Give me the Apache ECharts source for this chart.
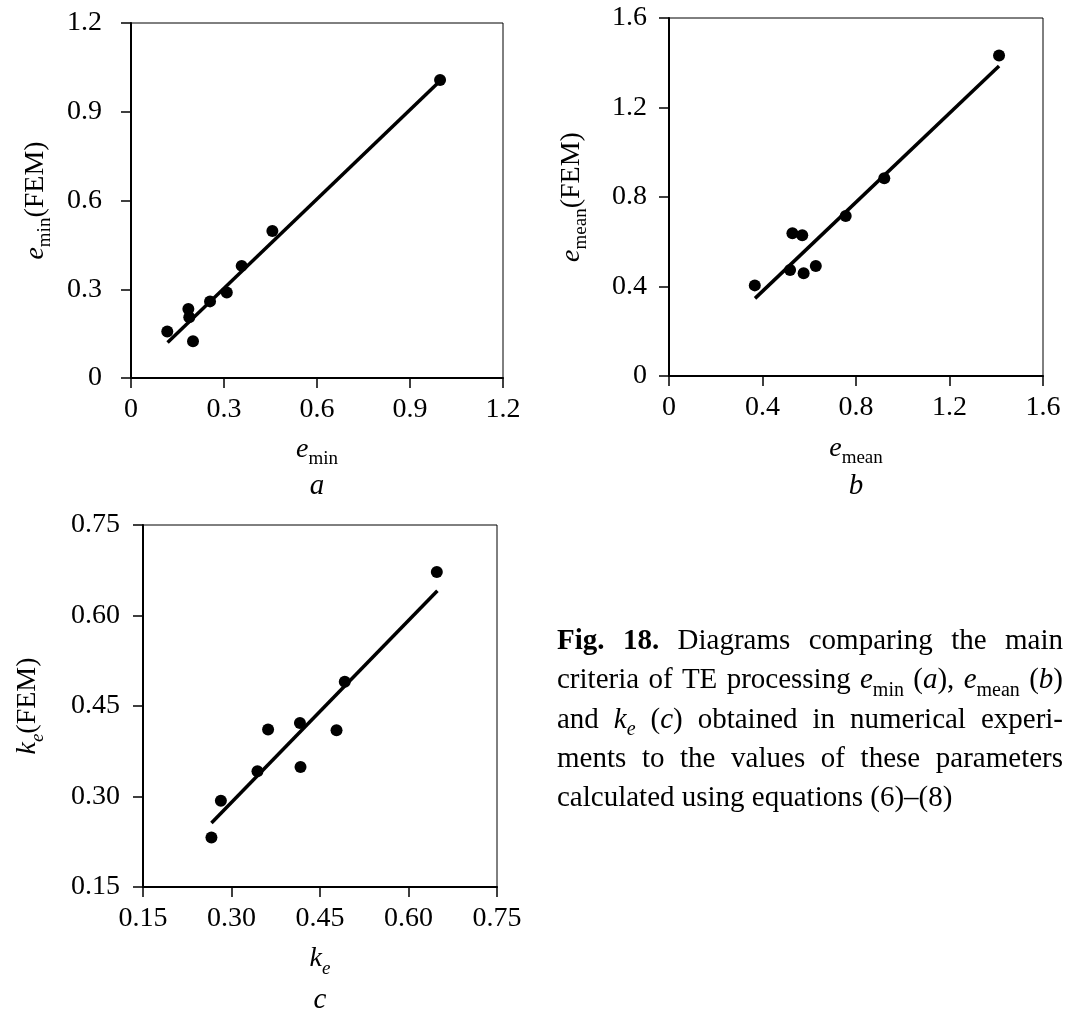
<!DOCTYPE html>
<html>
<head>
<meta charset="utf-8">
<script src="https://cdn.jsdelivr.net/npm/echarts@6/dist/echarts.min.js"></script>
<style>
  html, body { margin: 0; padding: 0; background: #fff; }
  #chart { width: 1066px; height: 1021px; }
</style>
</head>
<body>
<div id="chart"></div>
<script>
// panel a: e_min
const ticksA = [0, 0.3, 0.6, 0.9, 1.2]
const tickLabelsA = ['0', '0.3', '0.6', '0.9', '1.2']
const pointsA = [[0.117, 0.157], [0.185, 0.233], [0.188, 0.205], [0.2, 0.124], [0.255, 0.259],
  [0.309, 0.289], [0.357, 0.379], [0.456, 0.497], [0.997, 1.007]]
const fitA = [[0.118, 0.12], [0.99, 0.997]]

// panel b: e_mean
const ticksB = [0, 0.4, 0.8, 1.2, 1.6]
const tickLabelsB = ['0', '0.4', '0.8', '1.2', '1.6']
const pointsB = [[0.367, 0.405], [0.518, 0.474], [0.528, 0.638], [0.57, 0.629], [0.576, 0.459],
  [0.628, 0.492], [0.756, 0.715], [0.921, 0.884], [1.412, 1.432]]
const fitB = [[0.368, 0.347], [1.412, 1.385]]

// panel c: k_e
const ticksC = [0.15, 0.30, 0.45, 0.60, 0.75]
const tickLabelsC = ['0.15', '0.30', '0.45', '0.60', '0.75']
const pointsC = [[0.266, 0.232], [0.282, 0.293], [0.344, 0.342], [0.362, 0.411], [0.416, 0.422],
  [0.417, 0.349], [0.478, 0.41], [0.492, 0.49], [0.648, 0.672]]
const fitC = [[0.266, 0.256], [0.649, 0.641]]

const captionLines = [
  '{b|Fig.} {b|18.} Diagrams comparing the main',
  'criteria of TE processing {i|e}{s|min} ({i|a}), {i|e}{s|mean} ({i|b})',
  'and {i|k}{si|e} ({i|c}) obtained in numerical experi-',
  'ments to the values of these parameters',
  'calculated using equations (6)–(8)'
]

const SERIF = '"Liberation Serif", "Times New Roman", serif'

// main glyphs sit at the top of the line box, subscripts at its bottom
const nameRich = {
  i: { fontFamily: SERIF, fontStyle: 'italic', fontSize: 28, lineHeight: 33, verticalAlign: 'top', color: '#000' },
  r: { fontFamily: SERIF, fontSize: 28, lineHeight: 33, verticalAlign: 'top', color: '#000' },
  s: { fontFamily: SERIF, fontSize: 19, lineHeight: 33, verticalAlign: 'bottom', color: '#000' },
  si: { fontFamily: SERIF, fontStyle: 'italic', fontSize: 19, lineHeight: 33, verticalAlign: 'bottom', color: '#000' }
}

function valueAxis(gridIndex, ticks, labels, name, nameGap, labelMargin) {
  const step = +(ticks[1] - ticks[0]).toFixed(6)
  return {
    type: 'value',
    gridIndex: gridIndex,
    min: ticks[0],
    max: ticks[ticks.length - 1],
    interval: step,
    axisLine: { show: true, onZero: false, lineStyle: { color: '#000', width: 2 } },
    axisTick: { show: true, length: 10, lineStyle: { color: '#000', width: 1.5 } },
    axisLabel: {
      color: '#000', fontFamily: SERIF, fontSize: 28, margin: labelMargin,
      formatter: (v) => labels[Math.round((v - ticks[0]) / step)]
    },
    splitLine: { show: false },
    name: name,
    nameLocation: 'middle',
    nameGap: nameGap,
    nameTextStyle: { rich: nameRich }
  }
}

function panelSeries(i, points, fit) {
  return [
    {
      type: 'line', xAxisIndex: i, yAxisIndex: i, data: fit,
      symbol: 'none', lineStyle: { color: '#000', width: 3.5 }
    },
    {
      type: 'scatter', xAxisIndex: i, yAxisIndex: i, data: points,
      symbolSize: 12, itemStyle: { color: '#000', opacity: 1 }
    }
  ]
}

// caption layout: justified words, measured with canvas
const capFont = {
  r: '29px ' + SERIF,
  b: 'bold 29px ' + SERIF,
  i: 'italic 29px ' + SERIF,
  s: '20px ' + SERIF,
  si: 'italic 20px ' + SERIF
}
const capRich = {
  r: { fontFamily: SERIF, fontSize: 29, lineHeight: 34, verticalAlign: 'top', fill: '#000' },
  b: { fontFamily: SERIF, fontSize: 29, fontWeight: 'bold', lineHeight: 34, verticalAlign: 'top', fill: '#000' },
  i: { fontFamily: SERIF, fontSize: 29, fontStyle: 'italic', lineHeight: 34, verticalAlign: 'top', fill: '#000' },
  s: { fontFamily: SERIF, fontSize: 20, lineHeight: 34, verticalAlign: 'bottom', fill: '#000' },
  si: { fontFamily: SERIF, fontSize: 20, fontStyle: 'italic', lineHeight: 34, verticalAlign: 'bottom', fill: '#000' }
}
const ctx = document.createElement('canvas').getContext('2d')
function parseWord(w) {
  const segs = []
  const re = /\{(\w+)\|([^}]*)\}|[^{]+/g
  let m
  while ((m = re.exec(w))) {
    if (m[1]) segs.push([m[1], m[2]])
    else segs.push(['r', m[0]])
  }
  return segs
}
function measure(segs) {
  let w = 0
  segs.forEach(([st, t]) => { ctx.font = capFont[st]; w += ctx.measureText(t).width })
  return w
}
const capLeft = 557, capRight = 1063, capTop = 627, capStep = 39.3
const captionGraphics = []
captionLines.forEach((line, li) => {
  const words = line.split(' ').map(parseWord)
  const widths = words.map(measure)
  const total = widths.reduce((a, b) => a + b, 0)
  ctx.font = capFont.r
  let gap = ctx.measureText(' ').width
  if (li < captionLines.length - 1) gap = (capRight - capLeft - total) / (words.length - 1)
  let x = capLeft
  words.forEach((segs, wi) => {
    captionGraphics.push({
      type: 'text', x: x, y: capTop + li * capStep,
      style: {
        text: segs.map(([st, t]) => '{' + st + '|' + t + '}').join(''),
        rich: capRich, align: 'left', verticalAlign: 'top'
      }
    })
    x += widths[wi] + gap
  })
})

function panelLetter(t, x, y) {
  return {
    type: 'text', x: x, y: y,
    style: {
      text: t, fontFamily: SERIF, fontSize: 29, fontStyle: 'italic',
      fill: '#000', align: 'center', verticalAlign: 'middle'
    }
  }
}

const myChart = echarts.init(document.getElementById('chart'))
const option = {
  animation: false,
  backgroundColor: '#fff',
  grid: [
    { left: 131, top: 23, width: 372, height: 355, show: true, borderColor: '#000', borderWidth: 1 },
    { left: 669, top: 18, width: 374, height: 358, show: true, borderColor: '#000', borderWidth: 1 },
    { left: 143, top: 525, width: 354, height: 362, show: true, borderColor: '#000', borderWidth: 1 }
  ],
  xAxis: [
    valueAxis(0, ticksA, tickLabelsA, '{i|e}{s|min}', 58, 18),
    valueAxis(1, ticksB, tickLabelsB, '{i|e}{s|mean}', 59, 18),
    valueAxis(2, ticksC, tickLabelsC, '{i|k}{si|e}', 58, 18)
  ],
  yAxis: [
    valueAxis(0, ticksA, tickLabelsA, '{i|e}{s|min}{r|(FEM)}', 76, 29),
    valueAxis(1, ticksB, tickLabelsB, '{i|e}{s|mean}{r|(FEM)}', 78, 22),
    valueAxis(2, ticksC, tickLabelsC, '{i|k}{si|e}{r|(FEM)}', 96, 23)
  ],
  series: [].concat(
    panelSeries(0, pointsA, fitA),
    panelSeries(1, pointsB, fitB),
    panelSeries(2, pointsC, fitC)
  ),
  graphic: [
    panelLetter('a', 317, 486),
    panelLetter('b', 856, 486),
    panelLetter('c', 320, 1000)
  ].concat(captionGraphics)
}
option && myChart.setOption(option)
</script>
</body>
</html>
